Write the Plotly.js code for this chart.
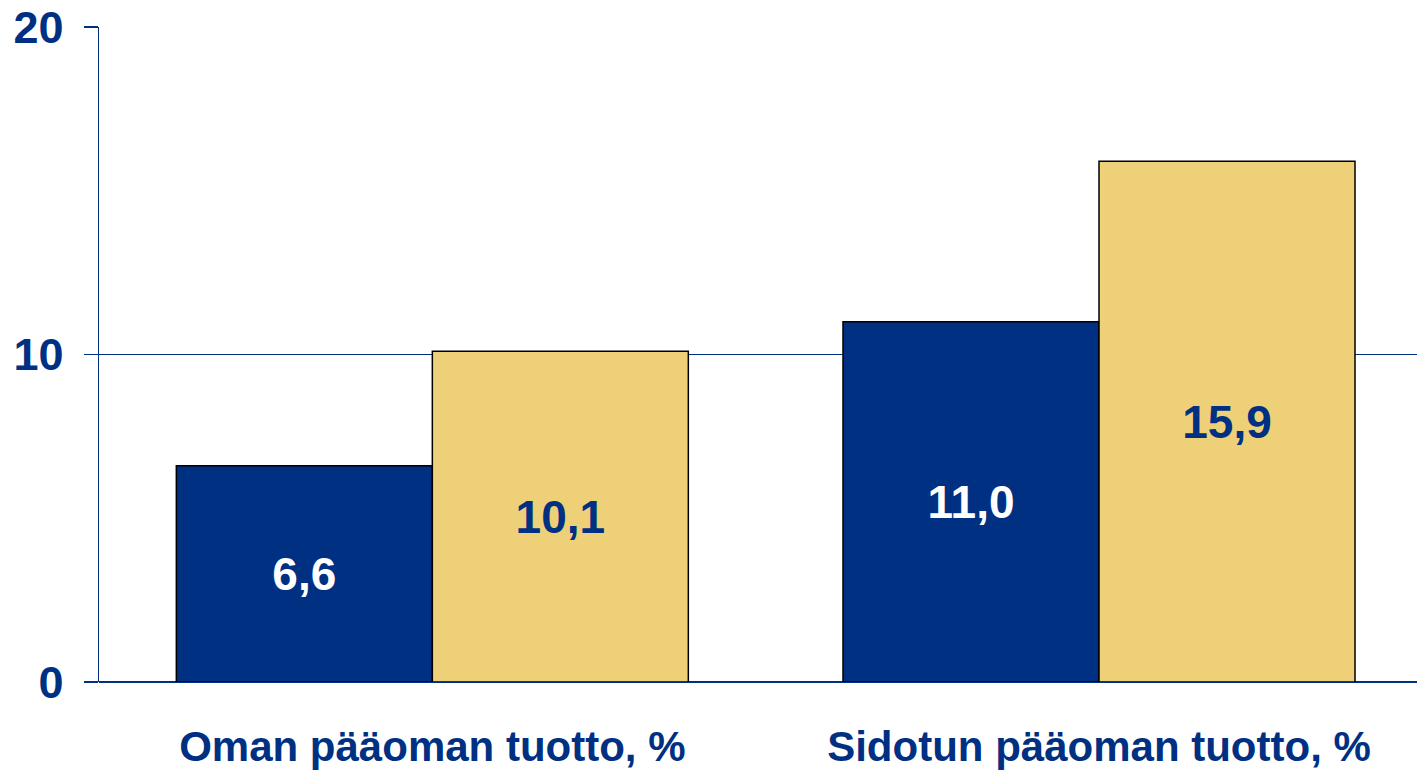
<!DOCTYPE html>
<html>
<head>
<meta charset="utf-8">
<script src="https://cdn.plot.ly/plotly-3.0.1.min.js"></script>
<style>
  html, body { margin: 0; padding: 0; overflow: hidden; background: #fff; }
  #plot { width: 1417px; height: 770px; }
</style>
</head>
<body>
<div id="plot"></div>
<script>
let categories = ['Oman pääoman tuotto, %', 'Sidotun pääoman tuotto, %'];
let blueValues = [6.6, 11.0];
let yellowValues = [10.1, 15.9];
let yTicks = [0, 10, 20];

let navy = '#003082';
let gold = '#EED078';
let labelFont = { family: 'Liberation Sans, Arial, sans-serif', size: 46, weight: 'bold' };

// finnish style decimals
let fmt = v => v.toFixed(1).replace('.', ',');

let blueTrace = {
    x: categories,
    y: blueValues,
    type: 'bar',
    name: 'A',
    marker: { color: navy, line: { color: '#000', width: 1.5 } },
    text: blueValues.map(fmt),
    textposition: 'inside',
    insidetextanchor: 'middle',
    textangle: 0,
    insidetextfont: Object.assign({}, labelFont, { color: '#ffffff' }),
    hoverinfo: 'none'
};

let yellowTrace = {
    x: categories,
    y: yellowValues,
    type: 'bar',
    name: 'B',
    marker: { color: gold, line: { color: '#000', width: 1.5 } },
    text: yellowValues.map(fmt),
    textposition: 'inside',
    insidetextanchor: 'middle',
    textangle: 0,
    insidetextfont: Object.assign({}, labelFont, { color: navy }),
    hoverinfo: 'none'
};

let layout = {
    width: 1417,
    height: 770,
    barmode: 'group',
    bargap: 0.232,
    bargroupgap: 0,
    showlegend: false,
    paper_bgcolor: '#fff',
    plot_bgcolor: '#fff',
    margin: { l: 99, r: 0, t: 27, b: 88, pad: 0 },
    xaxis: {
        range: [-0.5, 1.477],
        showgrid: false,
        showline: false,
        ticks: '',
        tickfont: { family: 'Liberation Sans, Arial, sans-serif', size: 42, weight: 'bold', color: navy },
        ticklabelstandoff: 36
    },
    yaxis: {
        range: [0, 20],
        tickvals: yTicks,
        ticktext: yTicks.map(String),
        showgrid: true,
        gridcolor: navy,
        gridwidth: 1.3,
        zeroline: true,
        zerolinecolor: navy,
        zerolinewidth: 1.5,
        showline: true,
        linecolor: navy,
        linewidth: 1.5,
        ticks: 'outside',
        ticklen: 14,
        tickcolor: navy,
        tickwidth: 1.5,
        tickfont: { family: 'Liberation Sans, Arial, sans-serif', size: 45, weight: 'bold', color: navy },
        ticklabelstandoff: 11
    }
};

Plotly.newPlot('plot', [blueTrace, yellowTrace], layout, { displayModeBar: false, staticPlot: true });
</script>
</body>
</html>
